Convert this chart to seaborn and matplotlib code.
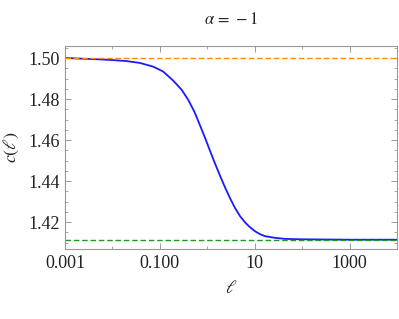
import numpy as np
import pandas as pd
import matplotlib
matplotlib.use('Agg')
import matplotlib.pyplot as plt
import matplotlib.ticker as mticker
import seaborn as sns

# values (log10 of ell, c)
log_ell = [-3.0, -2.41, -1.99, -1.70, -1.42, -1.14, -0.93, -0.72, -0.54, -0.40,
           -0.27, -0.16, -0.05, 0.055, 0.16, 0.27, 0.37, 0.48, 0.586, 0.69,
           0.797, 0.9, 1.008, 1.11, 1.22, 1.43, 1.64, 2.0, 2.5, 3.0, 4.0]
c_vals = [1.5000, 1.4995, 1.4990, 1.4985, 1.4976, 1.4958, 1.4934, 1.4890, 1.4845, 1.4795,
          1.4737, 1.4675, 1.4612, 1.4549, 1.4487, 1.4425, 1.4371, 1.4316, 1.4268, 1.4229,
          1.4198, 1.4175, 1.4155, 1.4141, 1.4131, 1.4123, 1.4118, 1.4116, 1.4115, 1.4114, 1.4114]
c_upper = 1.5
c_lower = 1.4114

df = pd.DataFrame({'ell': np.power(10.0, log_ell), 'c': c_vals})

sns.set_style('ticks')
plt.rcParams['font.family'] = ['Liberation Serif', 'DejaVu Serif']
plt.rcParams['mathtext.fontset'] = 'stix'

fig = plt.figure(figsize=(3.99, 3.19), dpi=100)
ax = fig.add_axes([0.163, 0.219, 0.832, 0.637])

sns.lineplot(data=df, x='ell', y='c', color='#1a1aff', linewidth=1.3, ax=ax)
ax.axhline(c_upper, color='#ff8c00', linestyle='--', linewidth=1.0, dashes=(4, 2))
ax.axhline(c_lower, color='#1f9a1f', linestyle='--', linewidth=1.0, dashes=(4, 2))

ax.set_xscale('log')
ax.set_xlim(1e-3, 1e4)
ax.set_ylim(1.4068, 1.5059)

ax.xaxis.set_major_locator(mticker.FixedLocator([1e-3, 1e-1, 1e1, 1e3]))
ax.xaxis.set_major_formatter(mticker.FixedFormatter(['0.001', '0.100', '10', '1000']))
ax.xaxis.set_minor_locator(mticker.FixedLocator([1e-2, 1e0, 1e2, 1e4]))
ax.xaxis.set_minor_formatter(mticker.NullFormatter())
ax.yaxis.set_major_locator(mticker.MultipleLocator(0.02))
ax.yaxis.set_major_formatter(mticker.FormatStrFormatter('%.2f'))
ax.yaxis.set_minor_locator(mticker.MultipleLocator(0.005))

ax.tick_params(which='both', direction='in', top=True, right=True, color='#999999',
               labelsize=13, labelcolor='#222222', pad=4)
ax.tick_params(which='major', length=4, width=0.7)
ax.tick_params(which='minor', length=2, width=0.6)
for s in ax.spines.values():
    s.set_color('#999999')
    s.set_linewidth(0.8)

ax.set_title(r'$\alpha\, =\, -1$', fontsize=12, color='#222222', pad=16)
ax.set_xlabel(r'$\ell$', fontsize=13, color='#222222', labelpad=6)
ax.set_ylabel(r'$c(\ell)$', fontsize=13, color='#222222', labelpad=5)

fig.savefig('out.png', dpi=100)
